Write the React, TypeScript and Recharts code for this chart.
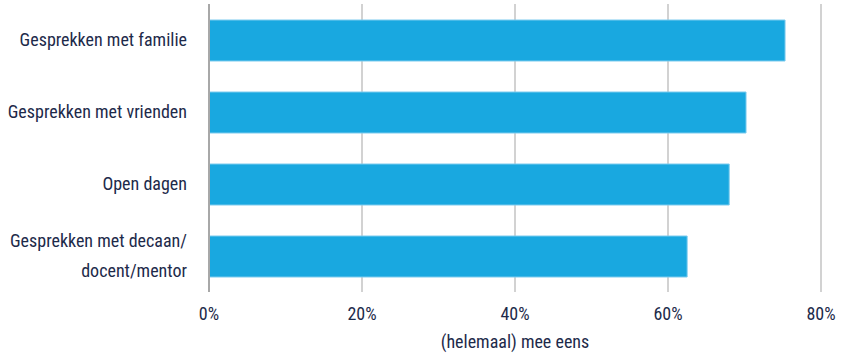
import { BarChart, Bar, XAxis, YAxis, CartesianGrid } from 'recharts';

const categories = [
  ['Gesprekken met familie'],
  ['Gesprekken met vrienden'],
  ['Open dagen'],
  ['Gesprekken met decaan/', 'docent/mentor'],
];
const agreeValues = [75.3, 70.2, 68.0, 62.5];
const xTicks = [0, 20, 40, 60, 80];
const xLabel = '(helemaal) mee eens';

const FONT = '"Liberation Sans Narrow", "Arial Narrow", "Roboto Condensed", sans-serif';
const TEXT = '#1d2a4a';

const data = categories.map((lines, i) => ({ name: lines.join('\n'), value: agreeValues[i] }));

const YTick = ({ x, y, payload }: any) => {
  const lines = String(payload.value).split('\n');
  const lh = 30;
  const start = -((lines.length - 1) * lh) / 2;
  return (
    <text x={x} y={y} textAnchor="end" fill={TEXT} style={{ fontSize: 18, fontFamily: FONT }}>
      {lines.map((l, i) => (
        <tspan key={i} x={x} dy={i === 0 ? start + 6 : lh}>{l}</tspan>
      ))}
    </text>
  );
};

const XTick = ({ x, y, payload }: any) => (
  <text x={x} y={y + 20} textAnchor="middle" fill={TEXT} style={{ fontSize: 18, fontFamily: FONT }}>
    {payload.value}%
  </text>
);

export default function App() {
  return (
    <div style={{ position: 'absolute', left: 0, top: 0, width: 844, height: 354, background: '#fff' }}>
      <BarChart
        width={844}
        height={354}
        data={data}
        layout="vertical"
        margin={{ top: 4, right: 23, bottom: 0, left: 0 }}
      >
        <CartesianGrid horizontal={false} stroke="#d2d2d2" strokeWidth={2} />
        <XAxis
          type="number"
          domain={[0, 80]}
          ticks={xTicks}
          height={62}
          axisLine={false}
          tickLine={false}
          tick={<XTick />}
          label={{ value: xLabel, position: 'insideBottom', offset: 6, fill: TEXT, style: { fontSize: 18, fontFamily: FONT } }}
        />
        <YAxis
          type="category"
          dataKey="name"
          width={209}
          axisLine={{ stroke: '#a8a8a8', strokeWidth: 2 }}
          tickLine={false}
          tick={<YTick />}
          tickMargin={16}
          interval={0}
        />
        <Bar dataKey="value" fill="#19a8e0" stroke="#7ccbee" strokeWidth={1} barSize={41} isAnimationActive={false} />
      </BarChart>
    </div>
  );
}
